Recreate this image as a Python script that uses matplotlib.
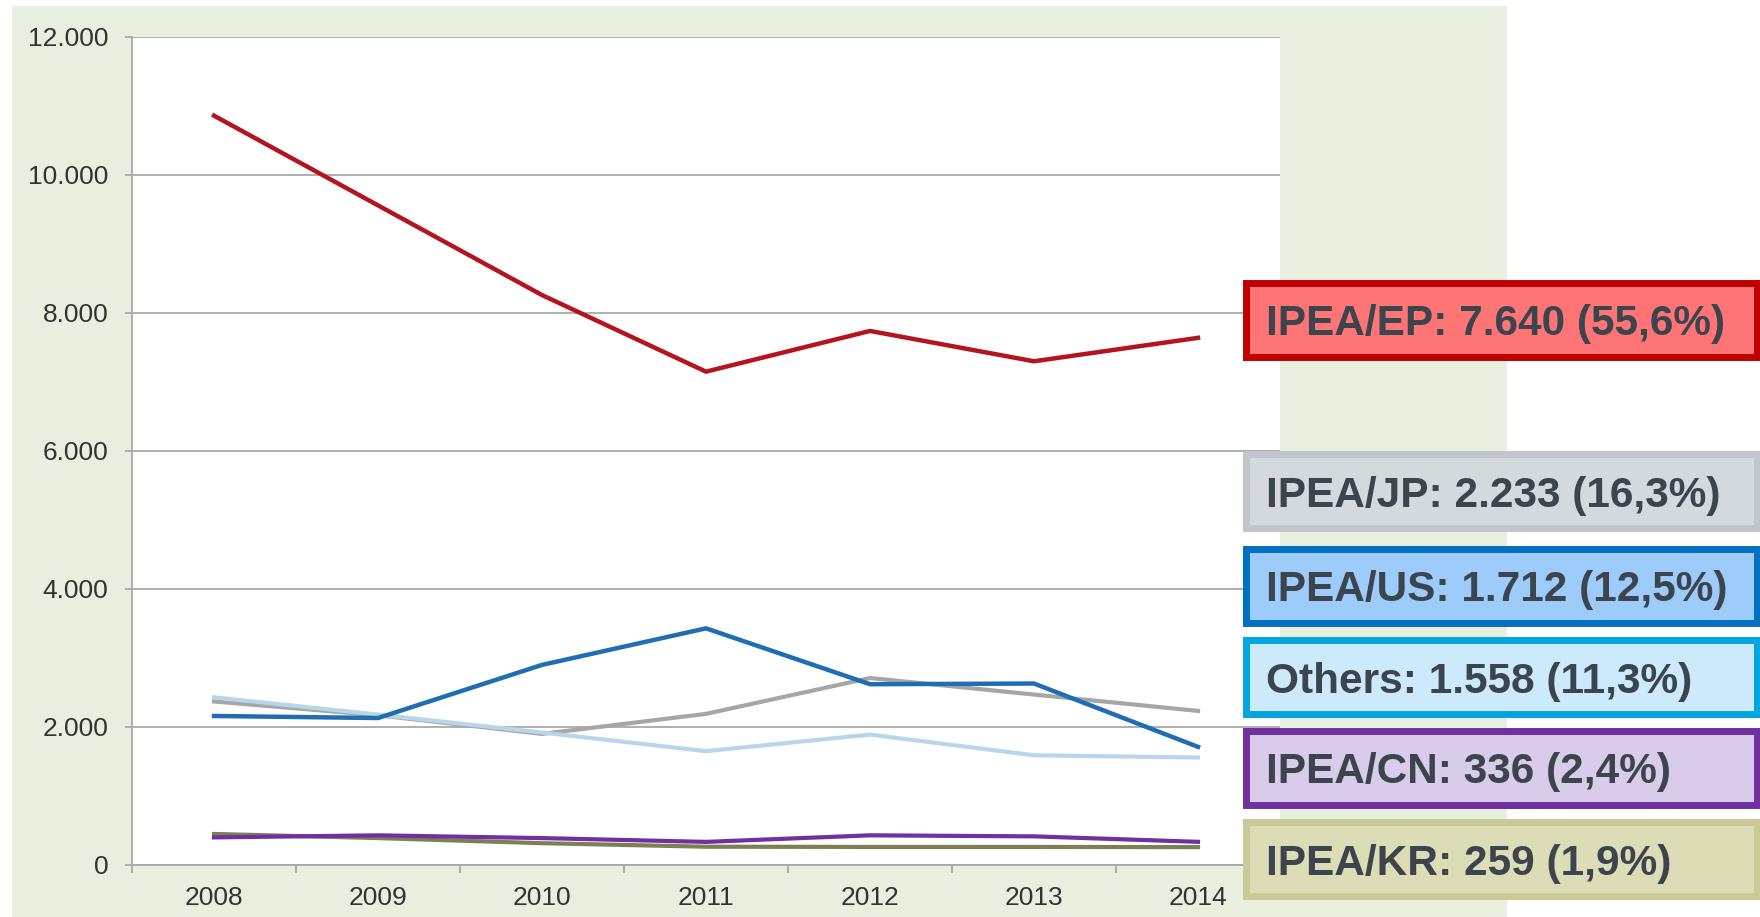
import matplotlib
matplotlib.use('Agg')
import matplotlib.pyplot as plt
from matplotlib.patches import Rectangle
from matplotlib.ticker import FuncFormatter, MultipleLocator

plt.rcParams['font.family'] = ['Liberation Sans', 'DejaVu Sans']

years = ['2008', '2009', '2010', '2011', '2012', '2013', '2014']

ep = [10860, 9560, 8260, 7150, 7740, 7300, 7640]
jp = [2370, 2170, 1900, 2190, 2710, 2470, 2233]
us = [2160, 2130, 2900, 3430, 2620, 2630, 1712]
others = [2430, 2180, 1920, 1650, 1890, 1590, 1558]
cn = [400, 430, 390, 335, 430, 415, 336]
kr = [450, 390, 316, 265, 262, 262, 259]

labels = ['IPEA/EP: 7.640 (55,6%)', 'IPEA/JP: 2.233 (16,3%)', 'IPEA/US: 1.712 (12,5%)',
          'Others: 1.558 (11,3%)', 'IPEA/CN: 336 (2,4%)', 'IPEA/KR: 259 (1,9%)']

W, H = 1760, 917
fig = plt.figure(figsize=(W / 100, H / 100), dpi=100)
fig.patch.set_facecolor('white')

# green panel behind the chart
fig.patches.append(Rectangle((12 / W, 0), (1507 - 12) / W, (H - 6) / H,
                             transform=fig.transFigure, facecolor='#E9EFDF',
                             edgecolor='none', zorder=-1))

ax = fig.add_axes([132 / W, (H - 865) / H, 1148 / W, 828 / H])
ax.set_zorder(1)
ax.set_facecolor('white')

x = list(range(len(years)))
ax.plot(x, jp, color='#A6A6A6', lw=3, zorder=3)
ax.plot(x, others, color='#B7D6EA', lw=3, zorder=3)
ax.plot(x, us, color='#1F6DB3', lw=3.2, zorder=4)
ax.plot(x, kr, color='#7E7F55', lw=3, zorder=3)
ax.plot(x, cn, color='#7030A0', lw=3, zorder=4)
ax.plot(x, ep, color='#B3141E', lw=3.2, zorder=5)

ax.set_xlim(-0.5, len(years) - 0.5)
ax.set_ylim(0, 12000)
ax.yaxis.set_major_locator(MultipleLocator(2000))
ax.yaxis.set_major_formatter(FuncFormatter(lambda v, p: f'{int(v):,}'.replace(',', '.')))
ax.set_xticks(x)
ax.set_xticklabels(years)
ax.set_xticks([i - 0.5 for i in range(len(years) + 1)], minor=True)

ax.grid(axis='y', color='#A8A8A8', lw=1.3, zorder=1)
ax.set_axisbelow(True)
for s in ['top', 'right']:
    ax.spines[s].set_visible(False)
for s in ['left', 'bottom']:
    ax.spines[s].set_color('#A8A8A8')
    ax.spines[s].set_linewidth(1.3)

ax.tick_params(axis='y', length=5, color='#A8A8A8', width=1.3, pad=12,
               labelsize=19, labelcolor='#333333')
ax.tick_params(axis='x', which='major', length=0, pad=15, labelsize=19, labelcolor='#333333')
ax.tick_params(axis='x', which='minor', length=6, color='#A8A8A8', width=1.3)

# label boxes on the right
box_faces = ['#FF7575', '#D4D9DD', '#9DCBFA', '#CCEAFB', '#D9CBEA', '#DCDCB6']
box_edges = ['#C00000', '#C0C6CC', '#0070C0', '#00A6DF', '#7030A0', '#CACA96']
box_centers = [320, 491, 586, 677, 768, 859]
box_h = 74
for lab, fc, ec, cy in zip(labels, box_faces, box_edges, box_centers):
    fig.patches.append(Rectangle((1246 / W, (H - cy - box_h / 2) / H), 511 / W, box_h / H,
                                 transform=fig.transFigure, facecolor=fc, edgecolor=ec,
                                 lw=5, zorder=5))
    fig.text(1266 / W, (H - cy) / H, lab, fontsize=30.5, fontweight='bold', color='#3C454D',
             ha='left', va='center_baseline', zorder=6)

fig.savefig('out.png', dpi=100)
